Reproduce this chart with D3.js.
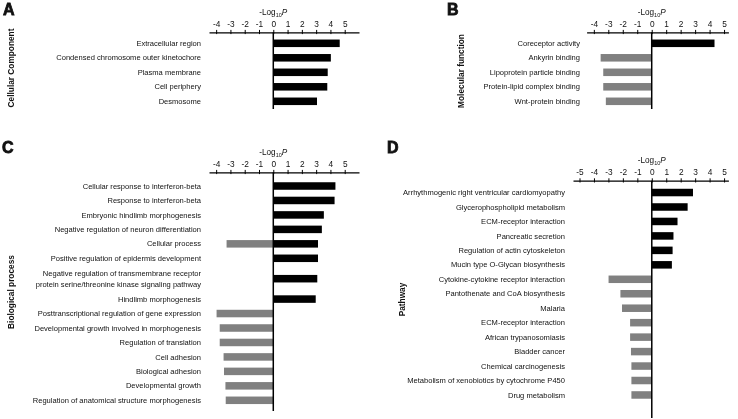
<!DOCTYPE html>
<html>
<head>
<meta charset="utf-8">
<script src="https://cdn.jsdelivr.net/npm/d3@7/dist/d3.min.js"></script>
<style>
  html, body { margin: 0; padding: 0; background: #fff; }
  svg { display: block; will-change: transform; }
  text { font-family: "Liberation Sans", Arial, sans-serif; fill: #111; }
</style>
</head>
<body>
<svg id="chart" width="738" height="419"></svg>
<script>
// ---------------- DATA ----------------
const ccCategories = ["Extracellular region", "Condensed chromosome outer kinetochore", "Plasma membrane", "Cell periphery", "Desmosome"];
const ccUp   = [4.65, 4.03, 3.81, 3.78, 3.06];
const ccDown = [null, null, null, null, null];

const mfCategories = ["Coreceptor activity", "Ankyrin binding", "Lipoprotein particle binding", "Protein-lipid complex binding", "Wnt-protein binding"];
const mfUp   = [4.34, null, null, null, null];
const mfDown = [null, -3.53, -3.35, -3.35, -3.17];

const bpCategories = [
  "Cellular response to interferon-beta",
  "Response to interferon-beta",
  "Embryonic hindlimb morphogenesis",
  "Negative regulation of neuron differentiation",
  "Cellular process",
  "Positive regulation of epidermis development",
  "Negative regulation of transmembrane receptor\nprotein serine/threonine kinase signaling pathway",
  "Hindlimb morphogenesis",
  "Posttranscriptional regulation of gene expression",
  "Developmental growth involved in morphogenesis",
  "Regulation of translation",
  "Cell adhesion",
  "Biological adhesion",
  "Developmental growth",
  "Regulation of anatomical structure morphogenesis"
];
const bpUp   = [4.35, 4.29, 3.54, 3.40, 3.13, 3.13, 3.08, 2.97, null, null, null, null, null, null, null];
const bpDown = [null, null, null, null, -3.27, null, null, null, -3.97, -3.75, -3.75, -3.48, -3.45, -3.35, -3.33];

const pwCategories = [
  "Arrhythmogenic right ventricular cardiomyopathy",
  "Glycerophospholipid metabolism",
  "ECM-receptor interaction",
  "Pancreatic secretion",
  "Regulation of actin cytoskeleton",
  "Mucin type O-Glycan biosynthesis",
  "Cytokine-cytokine receptor interaction",
  "Pantothenate and CoA biosynthesis",
  "Malaria",
  "ECM-receptor interaction",
  "African trypanosomiasis",
  "Bladder cancer",
  "Chemical carcinogenesis",
  "Metabolism of xenobiotics by cytochrome P450",
  "Drug metabolism"
];
const pwUp   = [2.85, 2.48, 1.78, 1.50, 1.44, 1.39, null, null, null, null, null, null, null, null, null];
const pwDown = [null, null, null, null, null, null, -2.99, -2.17, -2.06, -1.50, -1.50, -1.44, -1.41, -1.41, -1.41];

const ticksABC = [-4, -3, -2, -1, 0, 1, 2, 3, 4, 5];
const ticksD   = [-5, -4, -3, -2, -1, 0, 1, 2, 3, 4, 5];

// ---------------- LAYOUT ----------------
const svg = d3.select("#chart");
const UP_COLOR = "#000000";
const DOWN_COLOR = "#808080";

const panels = [
  { letter: "A", title: "Cellular Component", cats: ccCategories, up: ccUp, down: ccDown, ticks: ticksABC,
    domain: [-4.5, 6], range: [209, 359], axisY: 32.3, rowTop: 36.05, step: 14.5, lineEnd: 109,
    labelX: 201, letterPos: [3, 14.5], titlePos: [13.5, 68] },
  { letter: "B", title: "Molecular function", cats: mfCategories, up: mfUp, down: mfDown, ticks: ticksABC,
    domain: [-4.5, 5.3], range: [586.6, 728.4], axisY: 32.3, rowTop: 36.05, step: 14.5, lineEnd: 109,
    labelX: 580, letterPos: [447, 14.5], titlePos: [464, 71] },
  { letter: "C", title: "Biological process", cats: bpCategories, up: bpUp, down: bpDown, ticks: ticksABC,
    domain: [-4.5, 6], range: [209, 359], axisY: 172.3, rowTop: 178.77, step: 14.46, lineEnd: 411,
    labelX: 201, letterPos: [2, 153], titlePos: [13.5, 292] },
  { letter: "D", title: "Pathway", cats: pwCategories, up: pwUp, down: pwDown, ticks: ticksD,
    domain: [-5.45, 5.3], range: [573, 728.4], axisY: 180.7, rowTop: 185.3, step: 14.46, lineEnd: 418,
    labelX: 565, letterPos: [387, 153], titlePos: [405, 299.5] }
];

const LINE_EXTRA = 0.82; // extra row units per additional label line
const BAR_FRAC = 0.52;

panels.forEach(p => {
  const g = svg.append("g");
  const x = d3.scaleLinear().domain(p.domain).range(p.range);

  // row slots (multi-line labels take more room)
  const lines = p.cats.map(c => c.split("\n"));
  const heights = lines.map(l => 1 + LINE_EXTRA * (l.length - 1));
  const starts = [];
  heights.reduce((acc, h, i) => { starts[i] = acc; return acc + h; }, 0);
  const total = d3.sum(heights);
  const ySlot = d3.scaleLinear().domain([0, total]).range([p.rowTop, p.rowTop + total * p.step]);
  const yCenter = i => ySlot(starts[i] + heights[i] / 2);
  const barH = BAR_FRAC * p.step;

  const rows = p.cats.map((c, i) => ({ i, lines: lines[i], up: p.up[i], down: p.down[i] }));

  // bars
  g.selectAll("rect.up").data(rows.filter(r => r.up != null)).join("rect")
    .attr("class", "up")
    .attr("x", x(0))
    .attr("y", r => yCenter(r.i) - barH / 2)
    .attr("width", r => x(r.up) - x(0))
    .attr("height", barH)
    .attr("fill", UP_COLOR);
  g.selectAll("rect.down").data(rows.filter(r => r.down != null)).join("rect")
    .attr("class", "down")
    .attr("x", r => x(r.down))
    .attr("y", r => yCenter(r.i) - barH / 2)
    .attr("width", r => x(0) - x(r.down))
    .attr("height", barH)
    .attr("fill", DOWN_COLOR);

  // category labels
  const lab = g.selectAll("text.cat").data(rows).join("text")
    .attr("class", "cat")
    .attr("text-anchor", "end")
    .attr("font-size", 7.55)
    .attr("x", p.labelX)
    .attr("y", r => yCenter(r.i) - (r.lines.length - 1) * 5.35);
  lab.selectAll("tspan").data(r => r.lines).join("tspan")
    .attr("x", p.labelX)
    .attr("dy", (d, k) => k === 0 ? "0.35em" : "10.7")
    .text(d => d);

  // zero line
  g.append("line")
    .attr("x1", x(0)).attr("x2", x(0))
    .attr("y1", p.axisY).attr("y2", p.lineEnd)
    .attr("stroke", "#000").attr("stroke-width", 1.5);

  // top axis
  const axis = d3.axisTop(x).tickValues(p.ticks).tickFormat(d => String(d))
    .tickSizeInner(0).tickSizeOuter(0).tickPadding(5.4);
  const ax = g.append("g").attr("transform", `translate(0,${p.axisY})`).call(axis);
  ax.select(".domain").attr("stroke", "#000").attr("stroke-width", 1.3);
  ax.selectAll(".tick line").attr("y1", 1.8).attr("y2", -2.4).attr("stroke", "#000").attr("stroke-width", 1);
  ax.selectAll(".tick text").attr("font-size", 8.3).attr("font-family", "Liberation Sans, Arial, sans-serif").attr("fill", "#111");

  // axis title -Log10P
  const t = g.append("text")
    .attr("x", x(0)).attr("y", p.axisY - 17.6)
    .attr("text-anchor", "middle").attr("font-size", 8.2);
  t.append("tspan").text("-Log");
  t.append("tspan").attr("font-size", 5.5).attr("dy", 2).text("10");
  t.append("tspan").attr("dy", -2).attr("font-style", "italic").text("P");

  // panel letter
  g.append("text")
    .attr("x", p.letterPos[0]).attr("y", p.letterPos[1])
    .attr("font-size", 16).attr("font-weight", "bold")
    .attr("stroke", "#111").attr("stroke-width", 0.8)
    .text(p.letter);

  // y-title
  g.append("text")
    .attr("transform", `translate(${p.titlePos[0]},${p.titlePos[1]}) rotate(-90)`)
    .attr("text-anchor", "middle").attr("font-size", 8.3).attr("font-weight", "bold")
    .text(p.title);
});
</script>
</body>
</html>
